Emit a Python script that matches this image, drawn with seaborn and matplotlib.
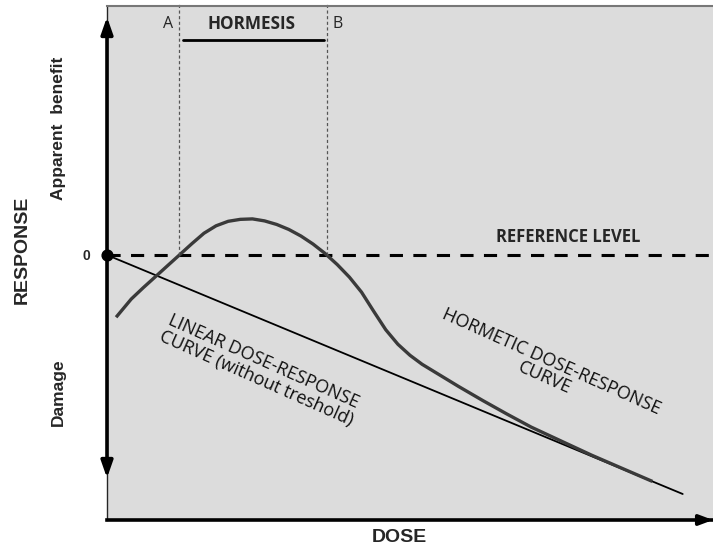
import seaborn as sns
from matplotlib import pyplot as plt

sns.set_style("white")
plt.rcParams['font.family'] = ['Liberation Sans', 'DejaVu Sans']

# linear (no threshold) dose-response
dose_linear = [0.0, 9.5]
resp_linear = [0.0, -4.78]

# hormetic dose-response
dose_hormetic = [0.15, 0.4, 0.6, 0.8, 1.0, 1.2, 1.4, 1.6, 1.8, 2.0,
                 2.2, 2.4, 2.6, 2.8, 3.0, 3.2, 3.4, 3.6, 3.8, 4.0,
                 4.2, 4.4, 4.6, 4.8, 5.0, 5.2, 5.5, 5.8, 6.2, 6.6,
                 7.0, 7.5, 8.0, 8.5, 9.0]
resp_hormetic = [-1.245, -0.881, -0.652, -0.433, -0.213, 0.006, 0.226, 0.435, 0.584, 0.674,
                 0.713, 0.722, 0.682, 0.611, 0.511, 0.380, 0.219, 0.029, -0.192, -0.443,
                 -0.743, -1.124, -1.495, -1.785, -2.006, -2.186, -2.407, -2.628, -2.910, -3.181,
                 -3.442, -3.724, -4.005, -4.267, -4.528]

hormesis_zone = [1.19, 3.63]

fig = plt.figure(figsize=(7.13, 5.47), dpi=100)
ax = fig.add_axes([107 / 713, 27 / 547, 606 / 713, 514 / 547])
ax.set_facecolor('#dcdcdc')

sns.lineplot(x=dose_linear, y=resp_linear, ax=ax, color='black', lw=1.3,
             sort=False, estimator=None)
sns.lineplot(x=dose_hormetic, y=resp_hormetic, ax=ax, color='#3a3a3a', lw=2.4,
             sort=False, estimator=None, solid_joinstyle='round', solid_capstyle='butt')

ax.axhline(0, color='black', lw=2.2, dashes=(4.3, 3.4), zorder=1)
ax.vlines(hormesis_zone, 0, 5.05, color='#555555', lw=0.9, linestyles=(0, (2.5, 2)),
          clip_on=False)
ax.plot([hormesis_zone[0] + 0.06, hormesis_zone[1] - 0.05], [4.30, 4.30], color='black', lw=2)

ax.set_xlim(0, 10)
ax.set_ylim(-5.3, 4.98)
ax.set_xticks([])
ax.set_yticks([])
ax.set_xlabel(None)
ax.set_ylabel(None)

ax.spines['right'].set_visible(False)
ax.spines['top'].set_color('#777777')
ax.spines['top'].set_linewidth(1.5)
ax.spines['left'].set_linewidth(1)
ax.spines['bottom'].set_linewidth(2.6)
ax.spines['bottom'].set_color('black')

# response axis arrow (both ways) and dose axis arrow
ax.annotate('', xy=(0, 4.76), xytext=(0, -4.46),
            arrowprops=dict(arrowstyle='<|-|>,head_length=1.0,head_width=0.35',
                            lw=2.6, color='black', shrinkA=0, shrinkB=0),
            annotation_clip=False)
ax.annotate('', xy=(1.0, 0), xytext=(0.98, 0), xycoords='axes fraction',
            arrowprops=dict(arrowstyle='-|>,head_length=0.8,head_width=0.3',
                            lw=2.6, color='black', shrinkA=0, shrinkB=0),
            annotation_clip=False)
ax.scatter([0], [0], s=60, color='black', zorder=5, clip_on=False)

body = ['Open Sans', 'DejaVu Sans']
ax.text(1.01, 4.62, 'A', ha='center', va='center', fontsize=11.5, family=body)
ax.text(3.80, 4.62, 'B', ha='center', va='center', fontsize=11.5, family=body)
ax.text(2.39, 4.62, 'HORMESIS', ha='center', va='center', fontsize=12.3,
        fontweight='bold', family=body)
ax.text(7.61, 0.36, 'REFERENCE LEVEL', ha='center', va='center', fontsize=12,
        fontweight='bold', family=body)
ax.text(2.52, -2.30, 'LINEAR DOSE-RESPONSE\nCURVE (without treshold)', ha='center',
        va='center', fontsize=13, rotation=-24, rotation_mode='anchor',
        linespacing=1.0, family=body, color='#111111')
ax.text(7.28, -2.30, 'HORMETIC DOSE-RESPONSE\nCURVE', ha='center', va='center',
        fontsize=13, rotation=-24, rotation_mode='anchor', linespacing=1.0, family=body,
        color='#111111')

fig.text(22 / 713, 1 - 250 / 547, 'RESPONSE', rotation=90, ha='center', va='center',
         fontsize=14, fontweight='bold')
fig.text(58 / 713, 1 - 128 / 547, 'Apparent  benefit', rotation=90, ha='center',
         va='center', fontsize=12.5, fontweight='bold')
fig.text(58 / 713, 1 - 392 / 547, 'Damage', rotation=90, ha='center', va='center',
         fontsize=12.5, fontweight='bold')
fig.text(86 / 713, 1 - 256 / 547, '0', ha='center', va='center', fontsize=10,
         fontweight='bold')
fig.text(399 / 713, 1 - 537 / 547, 'DOSE', ha='center', va='center', fontsize=14,
         fontweight='bold')

plt.savefig("out.png", dpi=100)
